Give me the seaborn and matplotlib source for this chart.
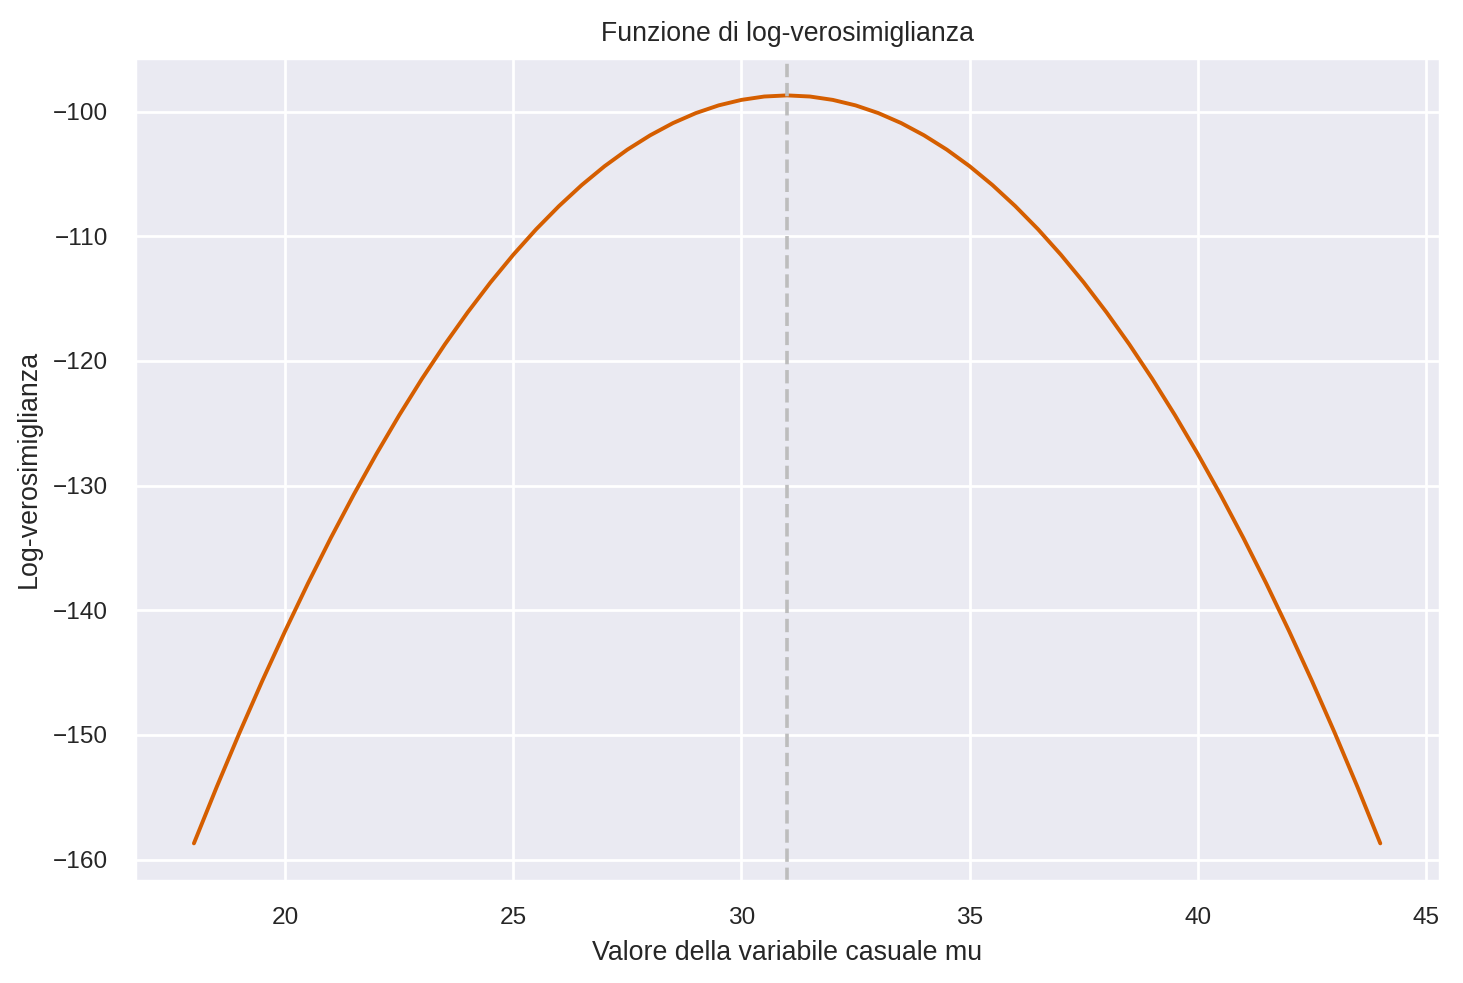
import numpy as np
import pandas as pd
import matplotlib
matplotlib.use("Agg")
import matplotlib.pyplot as plt
import seaborn as sns

# Values (step 0.5)
mu_values = [18.0, 18.5, 19.0, 19.5, 20.0, 20.5, 21.0, 21.5, 22.0, 22.5,
             23.0, 23.5, 24.0, 24.5, 25.0, 25.5, 26.0, 26.5, 27.0, 27.5,
             28.0, 28.5, 29.0, 29.5, 30.0, 30.5, 31.0, 31.5, 32.0, 32.5,
             33.0, 33.5, 34.0, 34.5, 35.0, 35.5, 36.0, 36.5, 37.0, 37.5,
             38.0, 38.5, 39.0, 39.5, 40.0, 40.5, 41.0, 41.5, 42.0, 42.5,
             43.0, 43.5, 44.0]
loglik_values = [-158.70, -154.17, -149.82, -145.65, -141.66, -137.84, -134.20,
                 -130.74, -127.46, -124.35, -121.42, -118.67, -116.10, -113.70,
                 -111.48, -109.44, -107.58, -105.89, -104.38, -103.05, -101.90,
                 -100.92, -100.12, -99.50, -99.06, -98.79, -98.70,
                 -98.79, -99.06, -99.50, -100.12, -100.92, -101.90, -103.05,
                 -104.38, -105.89, -107.58, -109.44, -111.48, -113.70, -116.10,
                 -118.67, -121.42, -124.35, -127.46, -130.74, -134.20, -137.84,
                 -141.66, -145.65, -149.82, -154.17, -158.70]
mu_max = 31

title = "Funzione di log-verosimiglianza"
xlabel = "Valore della variabile casuale mu"
ylabel = "Log-verosimiglianza"

sns.set_theme(style="darkgrid")
plt.rcParams['font.family'] = ['Liberation Sans', 'DejaVu Sans']

df = pd.DataFrame({"mu": mu_values, "ll": loglik_values})

fig, ax = plt.subplots(figsize=(7.315, 4.915), dpi=200)
fig.subplots_adjust(left=0.092, right=0.984, top=0.941, bottom=0.104)

sns.lineplot(data=df, x="mu", y="ll", color="#D55E00", linewidth=1.4, ax=ax)
ax.axvline(mu_max, color="#bdbdbd", linestyle="--", linewidth=1.3)

ax.set_title(title, fontsize=9.6)
ax.set_xlabel(xlabel, fontsize=9.65)
ax.set_ylabel(ylabel, fontsize=9.65)
ax.tick_params(labelsize=8.8)
ax.set_yticks([-160, -150, -140, -130, -120, -110, -100])

fig.savefig("out.png", dpi=200)
